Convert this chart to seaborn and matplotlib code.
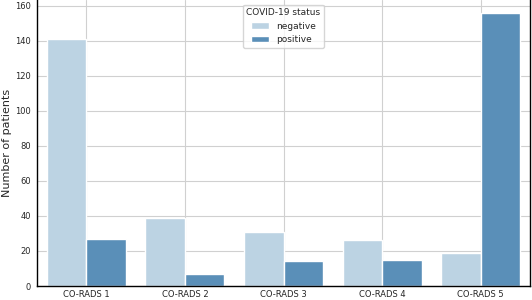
import pandas as pd
import matplotlib
matplotlib.use("Agg")
import matplotlib.pyplot as plt
import seaborn as sns

categories = ["CO-RADS 1", "CO-RADS 2", "CO-RADS 3", "CO-RADS 4", "CO-RADS 5"]
negative = [141, 39, 31, 26, 19]
positive = [27, 7, 14, 15, 156]
status_labels = ["negative", "positive"]
colors = ["#bcd3e3", "#5a8fb8"]

df = pd.DataFrame({
    "category": categories * 2,
    "count": negative + positive,
    "status": [status_labels[0]] * len(categories) + [status_labels[1]] * len(categories),
})

sns.set_style("whitegrid")
fig = plt.figure(figsize=(5.32, 3.0), dpi=100)
ax = fig.add_axes([37 / 532, 14 / 300, 493 / 532, 286 / 300])
sns.barplot(data=df, x="category", y="count", hue="status",
            palette=colors, saturation=1, ax=ax)

ax.set_ylim(0, 163.4)
ax.set_yticks(range(0, 161, 20))
ax.set_xlabel("")
ax.set_ylabel("Number of patients", fontsize=8, labelpad=2)
ax.tick_params(axis="both", labelsize=6, length=3, color="black", width=0.8, pad=1.5)
ax.tick_params(axis="x", length=2.5, pad=0.5)
for side in ["left", "bottom", "right"]:
    ax.spines[side].set_color("black")
    ax.spines[side].set_linewidth(1.0)
ax.spines["top"].set_visible(False)
ax.grid(True, color="#d0d0d0", linewidth=0.8)

leg = ax.legend(title="COVID-19 status", loc="upper center",
                bbox_to_anchor=(0.5, 1.0), fontsize=6.5, title_fontsize=6.5,
                frameon=True)

fig.savefig("out.png", dpi=100)
